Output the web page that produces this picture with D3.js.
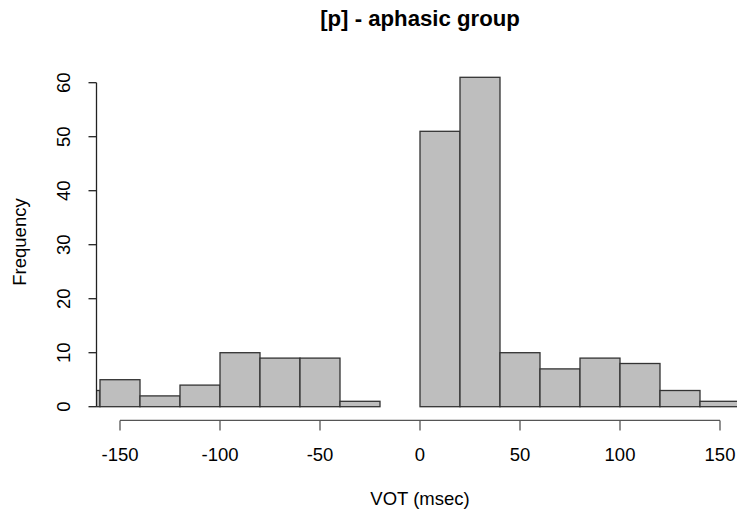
<!DOCTYPE html>
<html><head><meta charset="utf-8">
<script src="https://cdn.jsdelivr.net/npm/d3@7"></script>
<style>body{margin:0;background:#fff}svg{display:block}text{font-family:"Liberation Sans",Arial,sans-serif;fill:#000}</style>
</head><body><svg id="c" width="737" height="512"></svg>
<script>
const binStarts = [-180,-160,-140,-120,-100,-80,-60,-40,-20,0,20,40,60,80,100,120,140];
const binWidth = 20;
const counts = [3,5,2,4,10,9,9,1,0,51,61,10,7,9,8,3,1];
const xTicks = [-150,-100,-50,0,50,100,150];
const yTicks = [0,10,20,30,40,50,60];
const title = "[p] - aphasic group";
const xLabel = "VOT (msec)";
const yLabel = "Frequency";

const svg = d3.select("#c");
const x = d3.scaleLinear().domain([-150,150]).range([120,720]);
const y = d3.scaleLinear().domain([0,60]).range([406.7,82.7]);
const plotL = 96.5, plotT = y(63.44), plotB = y(-2.44);

svg.append("defs").append("clipPath").attr("id","clip")
  .append("rect").attr("x",plotL).attr("y",plotT).attr("width",800).attr("height",plotB-plotT);

const bars = svg.append("g").attr("clip-path","url(#clip)");
bars.selectAll("rect").data(binStarts.map((s,i)=>({s,c:counts[i]})).filter(d=>d.c>0))
  .enter().append("rect")
  .attr("x",d=>x(d.s)).attr("width",d=>x(d.s+binWidth)-x(d.s))
  .attr("y",d=>y(d.c)).attr("height",d=>y(0)-y(d.c))
  .attr("fill","#bebebe").attr("stroke","#333").attr("stroke-width",1.3);

// x axis
const xa = svg.append("g").attr("transform",`translate(0,${plotB+0.5})`);
xa.append("line").attr("x1",x(-150)).attr("x2",x(150)).attr("stroke","#555").attr("stroke-width",1.3);
xa.selectAll("line.t").data(xTicks).enter().append("line").attr("class","t")
  .attr("x1",d=>x(d)).attr("x2",d=>x(d)).attr("y1",0).attr("y2",10).attr("stroke","#555").attr("stroke-width",1.3);
xa.selectAll("text").data(xTicks).enter().append("text")
  .attr("x",d=>x(d)).attr("y",41).attr("text-anchor","middle").attr("font-size",18.5)
  .text(d=>String(d));

// y axis
const ya = svg.append("g").attr("transform",`translate(${plotL},0)`);
ya.append("line").attr("y1",y(0)).attr("y2",y(60)).attr("stroke","#222").attr("stroke-width",1.3);
ya.selectAll("line.t").data(yTicks).enter().append("line").attr("class","t")
  .attr("y1",d=>y(d)).attr("y2",d=>y(d)).attr("x1",0).attr("x2",-8).attr("stroke","#222").attr("stroke-width",1.3);
ya.selectAll("text").data(yTicks).enter().append("text")
  .attr("transform",d=>`translate(-27,${y(d)}) rotate(-90)`)
  .attr("text-anchor","middle").attr("font-size",18.5).text(d=>d);

svg.append("text").attr("x",420).attr("y",26).attr("text-anchor","middle")
  .attr("font-size",22.2).attr("font-weight","bold").text(title);
svg.append("text").attr("x",420).attr("y",505).attr("text-anchor","middle")
  .attr("font-size",18.5).text(xLabel);
svg.append("text").attr("transform",`translate(26,242) rotate(-90)`).attr("text-anchor","middle")
  .attr("font-size",18.5).text(yLabel);
</script></body></html>
